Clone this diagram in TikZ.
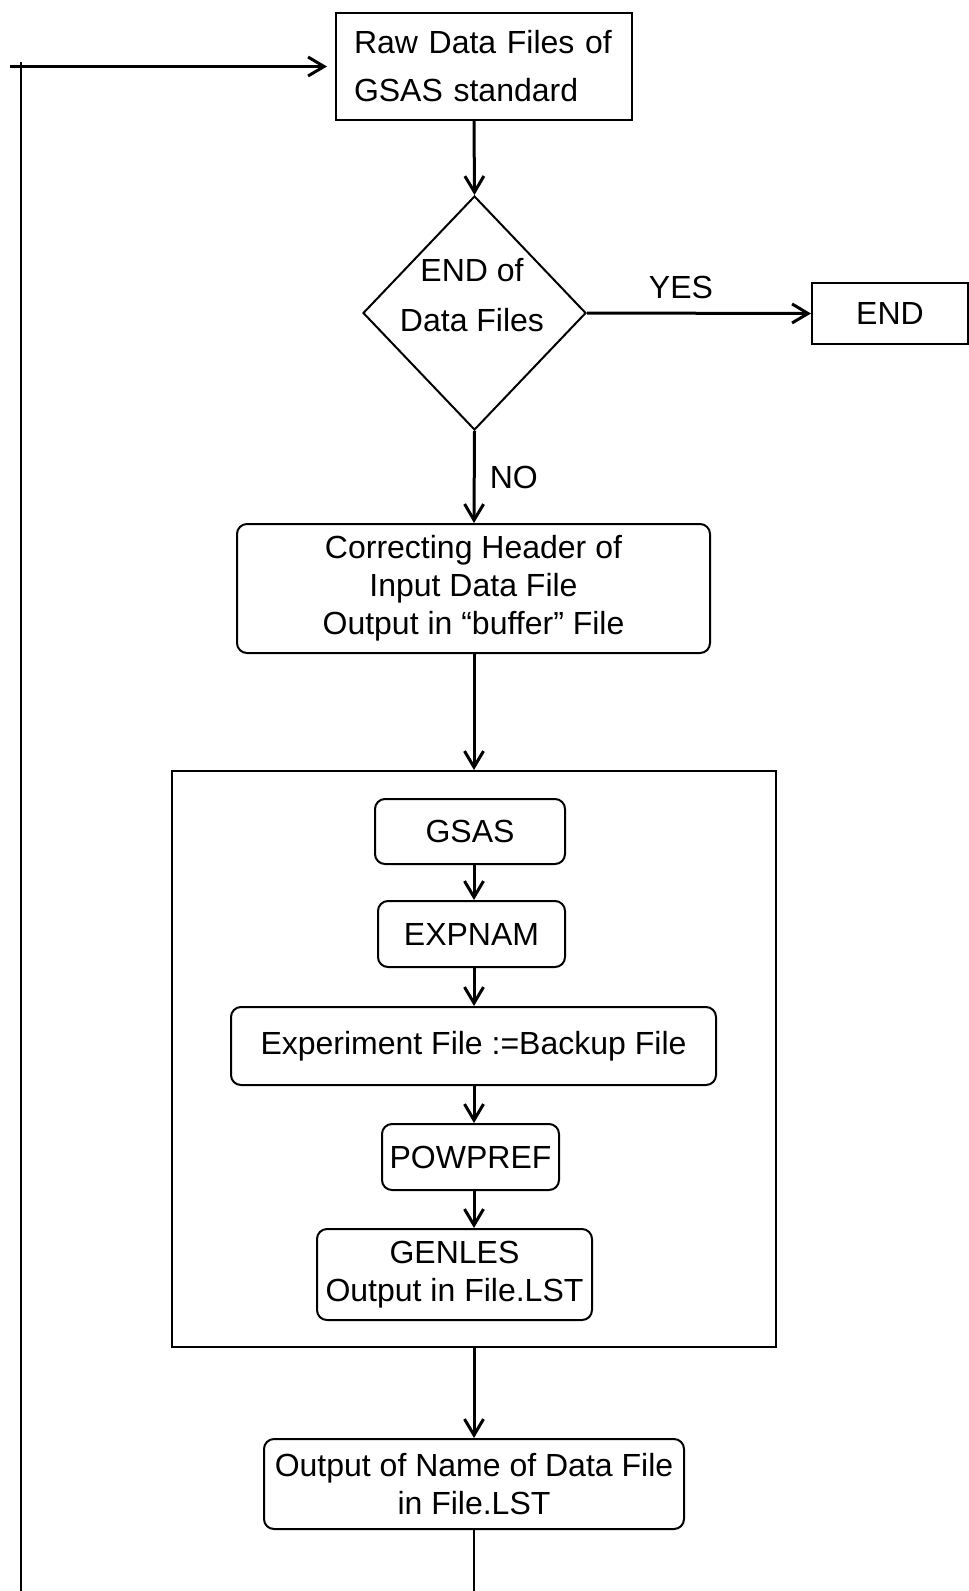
\documentclass[tikz,border=0pt]{standalone}
\usepackage{fontspec}
\setmainfont{Liberation Sans}
\usetikzlibrary{arrows.meta,shapes.geometric}
\tikzset{
  txt/.style={font=\fontsize{32}{38}\selectfont},
  sqbox/.style={txt, draw, line width=2pt, inner sep=0pt, align=center},
  rbox/.style={sqbox, rounded corners=10pt},
  flowarrow/.style={-{Straight Barb[length=16pt,width=19pt,line width=3pt]}, line width=3pt},
  flowline/.style={line width=2.5pt}
}
\begin{document}
\begin{tikzpicture}[x=1pt,y=-1pt]
\useasboundingbox (0,0) rectangle (969,1591);
\coordinate (axis) at (474,0);

\node[sqbox, align=left, text width=260pt, inner xsep=18pt, minimum height=107pt, font=\fontsize{32}{48}\selectfont] (raw) at (484,66.5) {\raisebox{-3pt}{Raw Data Files of}\\\raisebox{-3pt}{GSAS standard}};
\node[draw, diamond, line width=2pt, inner sep=0pt, minimum width=223pt, minimum height=234pt] (cond) at (474.5,313) {};
\node[txt, align=center, font=\fontsize{32}{50}\selectfont] (condtext) at (472,295) {END of\\Data Files};
\node[sqbox, minimum width=156pt, minimum height=61pt] (endbox) at (890,313.5) {END};

\node[rbox, minimum width=473pt, minimum height=129pt] (corr) at (473.5,588.5) {\raisebox{-4pt}{Correcting Header of}\\\raisebox{-4pt}{Input Data File}\\\raisebox{-4pt}{Output in “buffer” File}};

\node[draw, line width=2pt, minimum width=604pt, minimum height=576pt] (block) at (474,1059) {};
\node[rbox, minimum width=190pt, minimum height=65pt] (gsas) at (470,831.5) {GSAS};
\node[rbox, minimum width=187pt, minimum height=66pt] (expnam) at (471.5,934) {EXPNAM};
\node[rbox, minimum width=485pt, minimum height=78pt] (expfile) at (473.5,1046) {Experiment File :=Backup File};
\node[rbox, minimum width=177pt, minimum height=66pt] (powpref) at (470.5,1157) {POWPREF};
\node[rbox, minimum width=275pt, minimum height=91pt] (genles) at (454.5,1274.5) {\raisebox{-4pt}{GENLES}\\\raisebox{-4pt}{Output in File.LST}};

\node[rbox, minimum width=420pt, minimum height=90pt] (outname) at (474,1484) {Output of Name of Data File\\in File.LST};

\draw[flowarrow] (raw.south -| axis) -- (cond.north);
\draw[flowarrow] (cond.east) -- (endbox.west) node[txt, midway, above=13pt, xshift=-18pt, inner sep=0pt] (yes) {YES};
\draw[flowarrow] (cond.south) -- (corr.north -| axis) node[txt, midway, right=14pt, inner sep=0pt] (no) {NO};
\draw[flowarrow] (corr.south -| axis) -- (block.north -| axis);
\draw[flowarrow] (gsas.south -| axis) -- (expnam.north -| axis);
\draw[flowarrow] (expnam.south -| axis) -- (expfile.north -| axis);
\draw[flowarrow] (expfile.south -| axis) -- (powpref.north -| axis);
\draw[flowarrow] (powpref.south -| axis) -- (genles.north -| axis);
\draw[flowarrow] (block.south -| axis) -- (outname.north -| axis);

\coordinate (outbot) at (474,1591);
\coordinate (loopbot) at (21,1591);
\coordinate (looptop) at (21,62);
\coordinate (loopin) at (10,66.5);
\draw[flowline] (outname.south -| axis) -- (outbot);
\draw[flowline] (loopbot) -- (looptop);
\draw[flowarrow, shorten >=8pt] (loopin) -- (raw.west);
\end{tikzpicture}
\end{document}
